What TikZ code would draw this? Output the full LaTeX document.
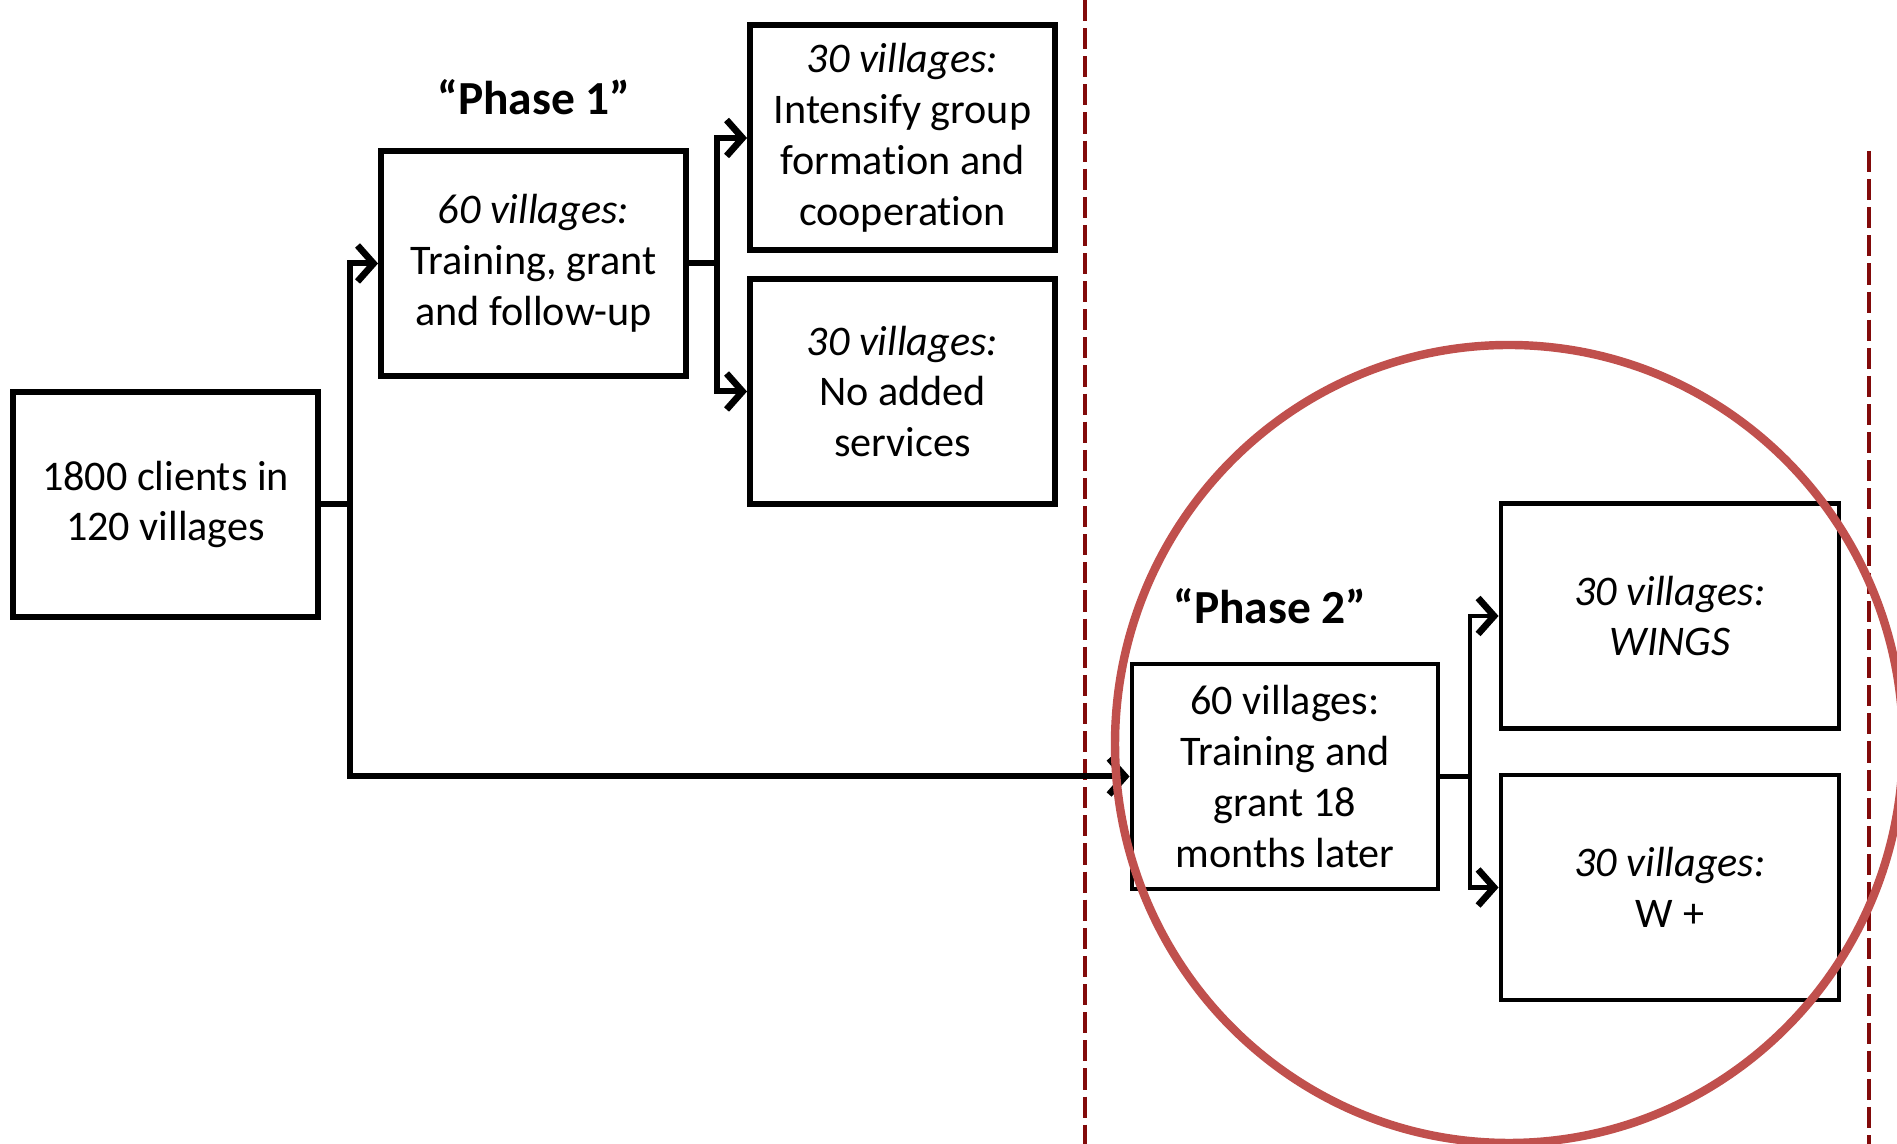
\documentclass[tikz,border=0pt]{standalone}
\usepackage{fontspec}
\setmainfont[Ligatures=NoCommon]{Carlito}
\usepackage{tikz}
\usetikzlibrary{arrows.meta}

\definecolor{darkred}{RGB}{130,10,10}
\definecolor{ringred}{RGB}{192,80,77}

\begin{document}
\begin{tikzpicture}[box/.style={draw,line width=1.7pt,minimum width=3.05cm,minimum height=2.25cm,inner sep=0pt,align=center,font=\fontsize{12}{14.5}\selectfont},
    widebox/.style={box,minimum width=3.38cm,line width=1.4pt},
    phaselabel/.style={font=\fontsize{13.5}{16}\selectfont\bfseries},
    arr/.style={-{Straight Barb[length=1.6mm,width=3.6mm,line width=1.9pt]},line width=1.7pt},
    divider/.style={darkred,line width=1.2pt,dash pattern=on 6pt off 2pt}]
    \useasboundingbox (0,0) rectangle (18.97,11.44);
    % dividers between the phases
    \draw[divider] (10.85,11.44) -- (10.85,0);
    \draw[divider] (18.69,9.93) -- (18.69,0);
    % phase 1
    \node[box] (clients) at (1.655,6.395) {1800 clients in\\120 villages};
    \node[box] (ph1) at (5.335,8.805) {\textit{60 villages:}\\Training, grant\\and follow-up};
    \node[phaselabel] (lab1) at (5.34,10.47) {“Phase 1”};
    \node[box] (coop) at (9.025,10.06) {\textit{30 villages:}\\Intensify group\\formation and\\cooperation};
    \node[box] (noadd) at (9.025,7.525) {\textit{30 villages:}\\No added\\services};
    % phase 2
    \node[box,line width=1.4pt,minimum width=3.06cm] (ph2) at (12.85,3.675) {60 villages:\\Training and\\grant 18\\months later};
    \node[phaselabel] (lab2) at (12.70,5.38) {“Phase 2”};
    \node[widebox] (wings) at (16.70,5.28) {\textit{30 villages:}\\\textit{WINGS}};
    \node[widebox] (wplus) at (16.70,2.565) {\textit{30 villages:}\\W +};
    % branches
    \coordinate (b1) at (3.50,6.395);
    \coordinate (b2) at (7.17,8.805);
    \coordinate (b3) at (14.70,3.675);
    \draw[line width=1.7pt] (clients.east) -- (b1);
    \draw[arr] (b1) |- (ph1.west);
    \draw[arr] (b1) |- (ph2.west);
    \draw[line width=1.7pt] (ph1.east) -- (b2);
    \draw[arr] (b2) |- (coop.west);
    \draw[arr] (b2) |- (noadd.west);
    \draw[line width=1.4pt] (ph2.east) -- (b3);
    \draw[arr,line width=1.4pt] (b3) |- (wings.west);
    \draw[arr,line width=1.4pt] (b3) |- (wplus.west);
    % ring round phase 2
    \draw[ringred,line width=2.4pt] (15.09,4.00) ellipse [x radius=3.94cm,y radius=3.99cm];
\end{tikzpicture}
\end{document}
